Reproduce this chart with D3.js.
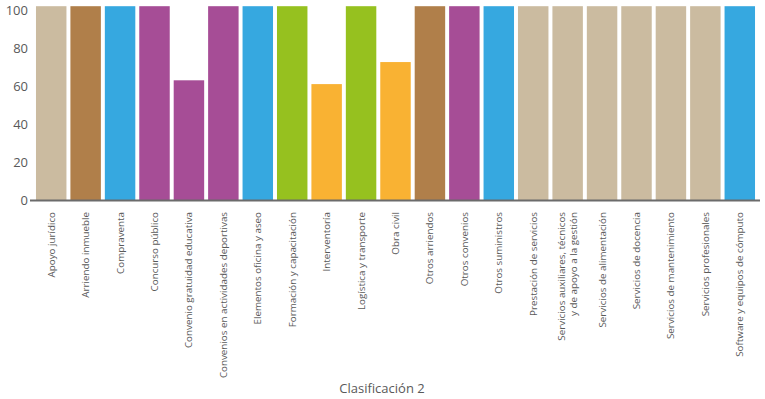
<!DOCTYPE html>
<html>
<head>
<meta charset="utf-8">
<script src="https://cdn.jsdelivr.net/npm/d3@7"></script>
<style>
html,body{margin:0;padding:0;background:#fff;}
svg{display:block;}
text{font-family:"Open Sans","Noto Sans",sans-serif;}
</style>
</head>
<body>
<svg id="chart" width="765" height="399"></svg>
<script>
const categories = [
  "Apoyo jurídico",
  "Arriendo inmueble",
  "Compraventa",
  "Concurso público",
  "Convenio gratuidad educativa",
  "Convenios en actividades deportivas",
  "Elementos oficina y aseo",
  "Formación y capacitación",
  "Interventoría",
  "Logística y transporte",
  "Obra civil",
  "Otros arriendos",
  "Otros convenios",
  "Otros suministros",
  "Prestación de servicios",
  "Servicios auxiliares, técnicos\ny de apoyo a la gestión",
  "Servicios de alimentación",
  "Servicios de docencia",
  "Servicios de mantenimiento",
  "Servicios profesionales",
  "Software y equipos de cómputo"
];
const values = [102, 102, 102, 102, 63, 102, 102, 102, 61, 102, 72.6, 102, 102, 102, 102, 102, 102, 102, 102, 102, 102];
const groups = ["beige","brown","blue","purple","purple","purple","blue","green","orange","green","orange","brown","purple","blue","beige","beige","beige","beige","beige","beige","blue"];
const yTicks = [0, 20, 40, 60, 80, 100];
const xTitle = "Clasificación 2";

const palette = {beige:"#CBBBA0", brown:"#B07F4A", blue:"#36A8E0", purple:"#A64D96", green:"#96C11F", orange:"#F9B233"};

const svg = d3.select("#chart");
const x = d3.scaleBand().domain(categories).range([34, 757]).paddingInner(0.115).paddingOuter(0.0575);
const y = d3.scaleLinear().domain([0, 100]).range([200, 10]);

svg.append("g").selectAll("rect").data(categories).join("rect")
  .attr("x", d => x(d))
  .attr("width", x.bandwidth())
  .attr("y", (d,i) => y(values[i]))
  .attr("height", (d,i) => y(0) - y(values[i]))
  .attr("fill", (d,i) => palette[groups[i]]);

// y axis labels
const yAxis = d3.axisLeft(y).tickValues(yTicks).tickSize(0).tickPadding(0);
const gy = svg.append("g").attr("transform", "translate(28,0)").call(yAxis);
gy.select(".domain").remove();
gy.selectAll("text").attr("fill", "#595959").style("font-size", "13px").style("font-family", '"Open Sans","Noto Sans",sans-serif');

// x axis line
svg.append("line").attr("x1", 30).attr("x2", 760).attr("y1", 200.5).attr("y2", 200.5)
  .attr("stroke", "#6b6b6b").attr("stroke-width", 2);

// x labels
const xAxis = d3.axisBottom(x).tickSize(0).tickFormat("");
const gx = svg.append("g").attr("transform", "translate(0,201)").call(xAxis);
gx.select(".domain").remove();
gx.selectAll(".tick").each(function(d) {
  const lines = d.split("\n");
  const t = d3.select(this).append("text")
    .attr("transform", "rotate(-90)")
    .attr("text-anchor", "end")
    .attr("fill", "#595959")
    .style("font-size", "9.8px");
  const lh = 11.5;
  const n = lines.length;
  lines.forEach((ln, k) => {
    t.append("tspan")
      .attr("x", -11)
      .attr("y", (k - (n - 1) / 2) * lh)
      .attr("dy", "0.35em")
      .text(ln);
  });
});

svg.append("text").attr("x", 382).attr("y", 393).attr("text-anchor", "middle")
  .attr("fill", "#595959").style("font-size", "13px").text(xTitle);
</script>
</body>
</html>
